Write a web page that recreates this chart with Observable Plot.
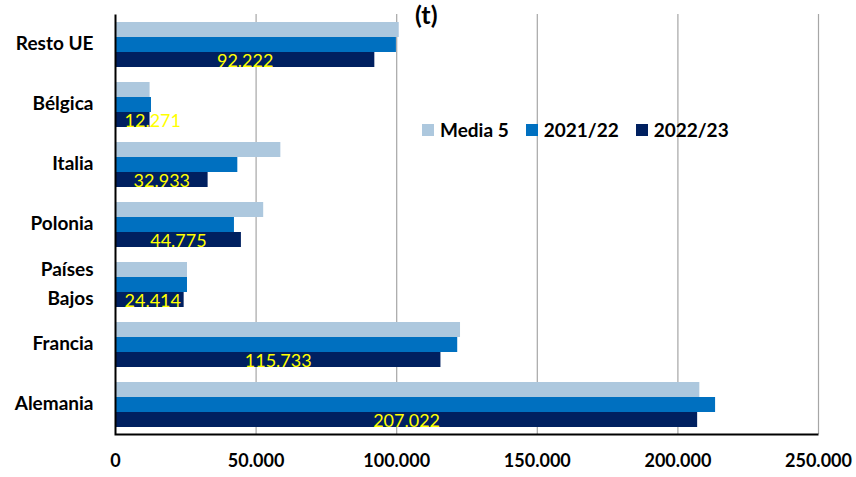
<!DOCTYPE html>
<html>
<head>
<meta charset="utf-8">
<script src="https://cdn.jsdelivr.net/npm/d3@7"></script>
<script src="https://cdn.jsdelivr.net/npm/@observablehq/plot@0.6"></script>
<style>
  html, body { margin: 0; padding: 0; background: #fff; }
  #wrap { position: relative; width: 856px; height: 477px; font-family: Lato, "Open Sans", sans-serif; }
  #title { position: absolute; left: 415px; top: -1px; font-size: 25px; font-weight: bold; color: #000; }
  #legend { position: absolute; left: 422px; top: 118px; display: flex; align-items: center; font-size: 19px; font-weight: bold; color: #000; }
  #legend .item { display: flex; align-items: center; margin-right: 17px; }
  #legend .sw { width: 12px; height: 12px; margin-right: 6px; }
</style>
</head>
<body>
<div id="wrap">
  <div id="chart"></div>
  <div id="title">(t)</div>
  <div id="legend"></div>
</div>
<script>
const countries = ["Resto UE", "Bélgica", "Italia", "Polonia", "Países\nBajos", "Francia", "Alemania"];
const seriesNames = ["Media 5", "2021/22", "2022/23"];
const media5 = [100900, 12300, 58800, 52700, 25600, 122700, 207800];
const v2122  = [99900, 12800, 43500, 42300, 25600, 121700, 213400];
const v2223  = [92222, 12271, 32933, 44775, 24414, 115733, 207022];
const xTicks = [0, 50000, 100000, 150000, 200000, 250000];
const colors = ["#ADC8DE", "#0070C0", "#002060"];

const seriesValues = [media5, v2122, v2223];
const rows = [];
seriesNames.forEach((s, si) => countries.forEach((c, ci) => rows.push({country: c, series: s, si, value: seriesValues[si][ci]})));

const W = 856, H = 477, mt = 14, mb = 43, ml = 115, mr = 38;
const step = (H - mt - mb) / 7;
const bw = step * 0.75;
const t = bw / 3;
const fmt = d => d3.format(",")(d).replace(/,/g, ".");
const pxPerUnit = (W - ml - mr) / 250000;
const labelFits = d => d.value * pxPerUnit > 75;

const barMarks = seriesNames.map((s, si) =>
  Plot.barX(rows.filter(r => r.si === si), {
    x: "value", y: "country", fill: colors[si],
    insetTop: si * t, insetBottom: (2 - si) * t
  })
);

const lastRows = rows.filter(r => r.si === 2);

const chart = Plot.plot({
  width: W, height: H,
  marginTop: mt, marginBottom: mb, marginLeft: ml, marginRight: mr,
  style: {fontFamily: "Lato, 'Open Sans', sans-serif", background: "#fff"},
  x: {domain: [0, 250000]},
  y: {domain: countries, paddingInner: 0.25, paddingOuter: 0.125},
  marks: [
    Plot.ruleX(xTicks.filter(d => d > 0), {stroke: "#A6A6A6", strokeWidth: 1.2}),
    ...barMarks,
    Plot.text(lastRows.filter(labelFits), {
      x: d => d.value / 2, y: "country", text: d => fmt(d.value),
      fill: "#FFFF00", fontSize: 18, dy: t + 1
    }),
    Plot.text(lastRows.filter(d => !labelFits(d)), {
      x: 0, y: "country", text: d => fmt(d.value), textAnchor: "start", dx: 9,
      fill: "#FFFF00", fontSize: 18, dy: t + 1
    }),
    Plot.frame({stroke: "#000", strokeWidth: 2, strokeDasharray: `0 ${(W-ml-mr)+(H-mt-mb)} ${(W-ml-mr)+(H-mt-mb)+10}`}),
    Plot.axisY({tickSize: 0, tickPadding: 22, fontSize: 19, fontWeight: "bold", label: null, lineHeight: 1.55, dy: -4, fill: "#000"}),
    Plot.axisX({ticks: xTicks, tickSize: 0, tickPadding: 20, fontSize: 18, fontWeight: "bold", label: null, tickFormat: d => d === 0 ? "0" : fmt(d), fill: "#000"})
  ]
});
document.getElementById("chart").appendChild(chart);

const legend = document.getElementById("legend");
seriesNames.forEach((s, i) => {
  const it = document.createElement("div");
  it.className = "item";
  it.innerHTML = `<div class="sw" style="background:${colors[i]}"></div><span>${s}</span>`;
  legend.appendChild(it);
});
</script>
</body>
</html>
